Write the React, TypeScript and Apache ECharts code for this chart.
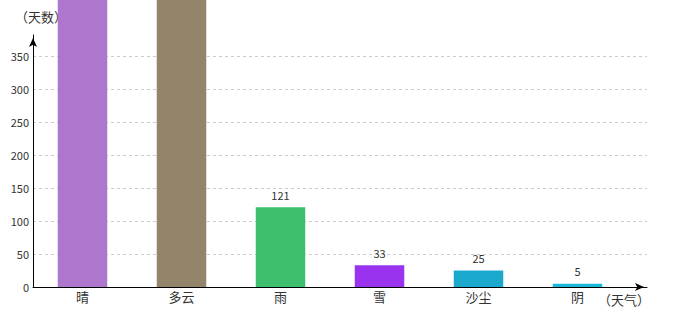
import React, { useEffect, useRef } from "react";
import * as echarts from "echarts";

const categories = ["晴", "多云", "雨", "雪", "沙尘", "阴"];
const days = [520, 505, 121, 33, 25, 5];
const barColors = ["#ad77cd", "#93856a", "#3ebf6e", "#9933ee", "#1aa9cc", "#1ab9d9"];
const yTicks = [0, 50, 100, 150, 200, 250, 300, 350];

const FONT = '"Noto Sans CJK SC", "Noto Sans", sans-serif';

export default function App() {
  const ref = useRef<HTMLDivElement>(null);
  useEffect(() => {
    if (!ref.current) return;
    const chart = echarts.init(ref.current, undefined, { renderer: "svg" });
    const yMax = 382;
    const gridColors = yTicks.map(() => "#cccccc").concat(["rgba(0,0,0,0)"]);
    chart.setOption({
      animation: false,
      textStyle: { fontFamily: FONT },
      grid: [
        { left: 33, right: 33, top: 35, bottom: 33 },
        { left: 33, width: 594, top: 35, bottom: 33 },
      ],
      xAxis: [
        {
          gridIndex: 0,
          type: "value",
          min: 0,
          max: 1,
          axisLine: {
            show: true,
            lineStyle: { color: "#000", width: 1 },
            symbol: ["none", "arrow"],
            symbolSize: [6, 9],
            symbolOffset: [0, -3],
          },
          axisTick: { show: false },
          axisLabel: { show: false },
          splitLine: { show: false },
          name: "（天气）",
          nameLocation: "end",
          nameGap: 3,
          nameTextStyle: {
            align: "right",
            verticalAlign: "top",
            padding: [6, 0, 0, 0],
            fontSize: 13,
            color: "#333",
            fontFamily: FONT,
          },
        },
        {
          gridIndex: 1,
          type: "category",
          data: categories,
          axisLine: { show: false },
          axisTick: { show: false },
          axisLabel: { color: "#333", fontSize: 13, margin: 3, fontFamily: FONT },
          splitLine: { show: false },
        },
      ],
      yAxis: [
        {
          gridIndex: 0,
          type: "value",
          min: 0,
          max: yMax,
          interval: 50,
          axisLine: {
            show: true,
            lineStyle: { color: "#000", width: 1 },
            symbol: ["none", "arrow"],
            symbolSize: [6, 9],
            symbolOffset: [0, -3],
          },
          axisTick: { show: false },
          axisLabel: {
            color: "#333",
            fontSize: 11,
            margin: 4,
            fontFamily: FONT,
            formatter: (v: number) => (v % 50 === 0 ? String(v) : ""),
          },
          splitLine: {
            show: true,
            lineStyle: { color: gridColors, type: [3, 3], width: 1 },
          },
          name: "（天数）",
          nameLocation: "end",
          nameGap: 12,
          nameTextStyle: {
            align: "center",
            padding: [0, 0, 0, 16],
            fontSize: 13,
            color: "#333",
            fontFamily: FONT,
          },
        },
        {
          gridIndex: 1,
          type: "value",
          min: 0,
          max: yMax,
          show: false,
          splitLine: { show: false },
        },
      ],
      series: [
        {
          type: "bar",
          xAxisIndex: 1,
          yAxisIndex: 1,
          barWidth: "50%",
          clip: false,
          data: days.map((v, i) => ({
            value: v,
            itemStyle: { color: barColors[i] },
            label: { show: v <= yMax },
          })),
          label: {
            show: true,
            position: "top",
            distance: 7,
            color: "#333",
            fontSize: 11,
            fontFamily: FONT,
          },
        },
      ],
    });
    return () => chart.dispose();
  }, []);
  return (
    <div
      ref={ref}
      style={{ position: "fixed", left: 0, top: 0, width: 680, height: 320, background: "#fff" }}
    />
  );
}
